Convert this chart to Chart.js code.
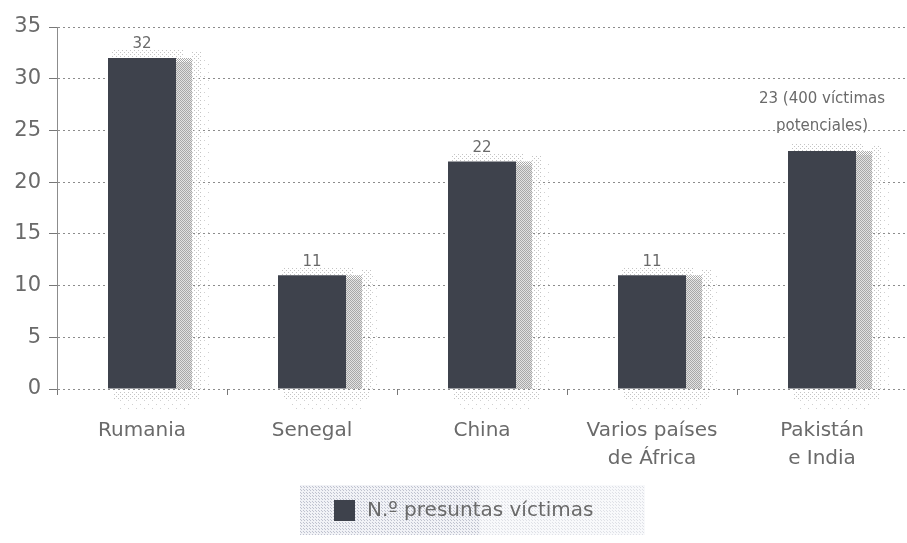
<!DOCTYPE html>
<html>
<head>
<meta charset="utf-8">
<script src="https://cdn.jsdelivr.net/npm/chart.js@4/dist/chart.umd.min.js"></script>
<style>
  html, body { margin: 0; padding: 0; background: #fff; }
  #wrap { width: 907px; height: 543px; position: relative; }
</style>
</head>
<body>
<div id="wrap"><canvas id="bar-chart"></canvas></div>
<script>
// data
var countries = [["Rumania"], ["Senegal"], ["China"], ["Varios países", "de África"], ["Pakistán", "e India"]];
var victims = [32, 11, 22, 11, 23];
var valueLabels = [["32"], ["11"], ["22"], ["11"], ["23 (400 víctimas", "potenciales)"]];
var yTicks = [0, 5, 10, 15, 20, 25, 30, 35];
var seriesName = "N.º presuntas víctimas";

var barColor = "#3e424c";
var textColor = "#6a6a6a";
var fontName = "'DejaVu Sans', sans-serif";

//dotted pattern used for shadows and legend background
function dotPattern(color, step) {
  var c = document.createElement("canvas");
  c.width = step; c.height = step;
  var g = c.getContext("2d");
  g.fillStyle = color;
  g.fillRect(0, 0, 1, 1);
  g.fillRect(Math.floor(step / 2), Math.floor(step / 2), 1, 1);
  return c;
}

//shadow behind bars
var shadowPlugin = {
  id: "shadows",
  beforeDatasetsDraw: function(chart) {
    var ctx = chart.ctx;
    var base = chart.scales.y.getPixelForValue(0);
    var dense = ctx.createPattern(dotPattern("#a8a8a8", 2), "repeat");
    var light = ctx.createPattern(dotPattern("#c4c4c4", 4), "repeat");
    var faint = ctx.createPattern(dotPattern("#d0d0d0", 8), "repeat");
    chart.getDatasetMeta(0).data.forEach(function(bar) {
      var left = bar.x - bar.width / 2, right = bar.x + bar.width / 2;
      ctx.save();
      ctx.fillStyle = "#e2e2e2";
      ctx.fillRect(right, bar.y + 4, 16, base - bar.y - 4);
      ctx.fillStyle = dense;
      ctx.fillRect(right, bar.y, 16, base - bar.y);
      ctx.fillStyle = light;
      ctx.fillRect(right + 16, bar.y - 6, 10, base - bar.y + 6);
      ctx.fillRect(left + 4, bar.y - 8, bar.width + 4, 8);
      ctx.fillRect(left + 6, base + 2, bar.width + 18, 8);
      ctx.fillStyle = faint;
      ctx.fillRect(left + 12, base + 10, bar.width + 4, 12);
      ctx.fillRect(right + 26, bar.y, 8, base - bar.y);
      ctx.restore();
    });
  }
};

//value labels over the bars
var valuePlugin = {
  id: "values",
  afterDatasetsDraw: function(chart) {
    var ctx = chart.ctx;
    ctx.save();
    ctx.font = "15px " + fontName;
    ctx.fillStyle = textColor;
    ctx.textAlign = "center";
    ctx.textBaseline = "bottom";
    chart.getDatasetMeta(0).data.forEach(function(bar, i) {
      var lines = valueLabels[i];
      var lift = lines.length > 1 ? 18 : 6;
      for (var k = 0; k < lines.length; k++) {
        var y = bar.y - lift - (lines.length - 1 - k) * 27;
        ctx.fillText(lines[k], bar.x, y);
      }
    });
    ctx.restore();
  }
};

//legend box under the chart
var legendPlugin = {
  id: "legendBox",
  afterDraw: function(chart) {
    var ctx = chart.ctx;
    ctx.save();
    ctx.fillStyle = "#f1f2f6";
    ctx.fillRect(300, 485, 345, 50);
    ctx.fillStyle = ctx.createPattern(dotPattern("#bfc2cf", 3), "repeat");
    ctx.fillRect(300, 485, 345, 50);
    ctx.fillStyle = "#ffffff";
    ctx.globalAlpha = 0.5;
    ctx.fillRect(480, 485, 165, 50);
    ctx.globalAlpha = 1;
    ctx.fillStyle = barColor;
    ctx.fillRect(334, 500, 21, 21);
    ctx.font = "20px " + fontName;
    ctx.fillStyle = textColor;
    ctx.textBaseline = "middle";
    ctx.fillText(seriesName, 367, 511);
    ctx.restore();
  }
};

var barChart = new Chart(document.getElementById("bar-chart"), {
  type: "bar",
  data: {
    labels: countries,
    datasets: [{
      label: seriesName,
      data: victims,
      backgroundColor: barColor,
      barPercentage: 0.4,
      categoryPercentage: 1
    }]
  },
  options: {
    responsive: true,
    maintainAspectRatio: false,
    animation: false,
    layout: { padding: { top: 27, right: 0, bottom: 58, left: 0 } },
    plugins: { legend: { display: false }, tooltip: { enabled: false } },
    scales: {
      x: {
        grid: { offset: true, drawOnChartArea: false, drawTicks: true, tickLength: 6, color: "#777" },
        border: { display: false },
        ticks: { color: textColor, font: { family: fontName, size: 20, lineHeight: 1.4 }, padding: 22, maxRotation: 0 },
        afterFit: function(scale) { scale.height = 96; }
      },
      y: {
        min: 0, max: 35,
        afterBuildTicks: function(scale) { scale.ticks = yTicks.map(function(v) { return { value: v }; }); },
        grid: { color: "#8c8c8c", tickLength: 8, tickColor: "#777" },
        border: { display: true, color: "#8c8c8c", dash: [2, 3] },
        ticks: { color: textColor, font: { family: fontName, size: 21 }, padding: 8 },
        afterFit: function(scale) { scale.width = 57; }
      }
    }
  },
  plugins: [shadowPlugin, valuePlugin, legendPlugin]
});
</script>
</body>
</html>
